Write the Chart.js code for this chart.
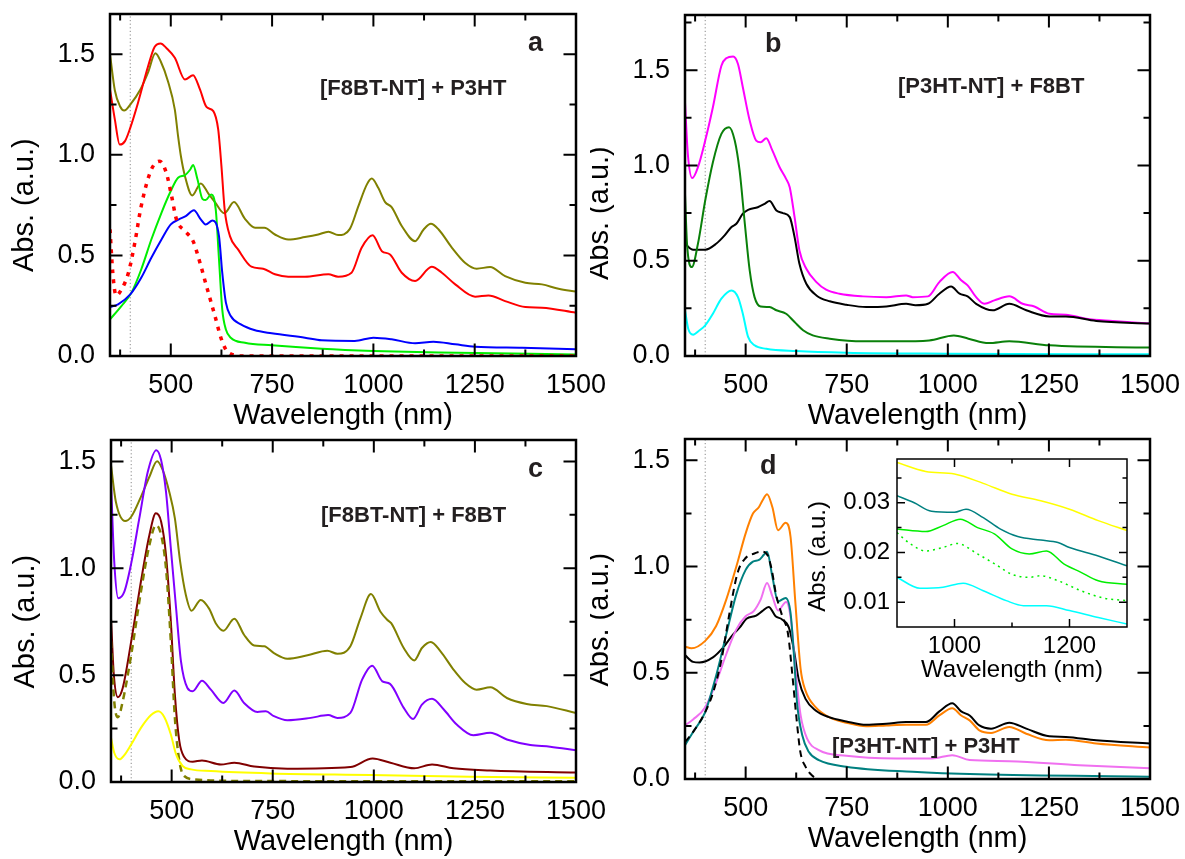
<!DOCTYPE html>
<html><head><meta charset="utf-8">
<script src="https://cdn.jsdelivr.net/npm/chart.js@4/dist/chart.umd.min.js"></script>
<style>
html,body{margin:0;padding:0;background:#fff;}
body{width:1185px;height:859px;position:relative;overflow:hidden;}
canvas{position:absolute;}
</style></head>
<body>
<canvas id="pa" width="640" height="440" style="left:0px;top:0px"></canvas>
<canvas id="pb" width="595" height="440" style="left:590px;top:0px"></canvas>
<canvas id="pc" width="640" height="439" style="left:0px;top:420px"></canvas>
<canvas id="pd" width="595" height="439" style="left:590px;top:420px"></canvas>
<canvas id="pi" width="345" height="250" style="left:795px;top:445px"></canvas>
<script>
// ---------- axis ticks ----------
const X_MAJOR = [500, 750, 1000, 1250, 1500];
const X_MINOR = [375, 625, 875, 1125, 1375];
const Y_MAJOR = [0, 0.5, 1.0, 1.5];
const Y_MINOR = [0.25, 0.75, 1.25, 1.75];
const REF_WL = 400;
const INSET_X_MAJOR = [1000, 1200];
const INSET_X_MINOR = [1100];
const INSET_Y_MAJOR = [0.01, 0.02, 0.03];
const INSET_Y_MINOR = [0.015, 0.025, 0.035];

// ---------- panel a : [F8BT-NT] + P3HT ----------
const aOliveX = [350,362,375,385,400,425,444,462,475,493,510,518,525,535,553,574,592,609,632,656,683,708,731,757,790,831,864,889,913,942,963,984,996,1012,1029,1045,1070,1103,1124,1142,1161,1194,1226,1255,1288,1325,1375,1416,1457,1500];
const aOliveY = [1.50,1.32,1.24,1.22,1.25,1.325,1.41,1.505,1.465,1.366,1.225,1.093,0.993,0.894,0.798,0.858,0.81,0.765,0.709,0.765,0.682,0.637,0.637,0.604,0.579,0.591,0.604,0.618,0.601,0.632,0.745,0.853,0.882,0.836,0.765,0.74,0.646,0.571,0.629,0.657,0.629,0.538,0.464,0.434,0.442,0.397,0.364,0.356,0.334,0.32];
const aRedX = [350,362,374,387,400,419,444,460,475,489,510,535,555,572,588,605,617,625,633,646,666,699,728,757,790,831,889,913,946,971,998,1021,1041,1070,1103,1144,1169,1202,1251,1284,1325,1375,1416,1500];
const aRedY = [1.325,1.175,1.051,1.068,1.134,1.258,1.44,1.536,1.553,1.531,1.482,1.374,1.396,1.325,1.238,1.217,1.126,0.944,0.728,0.596,0.53,0.444,0.434,0.406,0.394,0.394,0.406,0.394,0.414,0.538,0.6,0.521,0.505,0.414,0.373,0.444,0.414,0.356,0.295,0.301,0.273,0.243,0.24,0.215];
const aRedDotX = [350,357,365,378,395,411,427,452,473,489,502,514,535,555,572,588,609,625,642,683,800,1000,1200,1500];
const aRedDotY = [0.63,0.41,0.30,0.33,0.41,0.56,0.745,0.927,0.968,0.91,0.795,0.679,0.621,0.571,0.464,0.348,0.199,0.083,0.017,0,0,0,0,0];
const aGreenX = [350,378,403,427,452,477,500,518,535,548,555,566,578,586,600,611,619,627,636,648,683,749,872,1000,1161,1500];
const aGreenY = [0.182,0.248,0.315,0.43,0.579,0.712,0.82,0.886,0.899,0.927,0.949,0.877,0.781,0.775,0.803,0.728,0.48,0.232,0.132,0.091,0.066,0.053,0.036,0.025,0.017,0.008];
const aBlueX = [350,370,400,427,452,477,500,520,537,557,574,586,603,619,627,636,648,673,706,749,831,872,954,1000,1045,1103,1148,1202,1251,1367,1500];
const aBlueY = [0.243,0.257,0.306,0.389,0.488,0.579,0.654,0.679,0.695,0.724,0.679,0.654,0.674,0.596,0.414,0.265,0.199,0.157,0.129,0.113,0.091,0.078,0.075,0.091,0.083,0.063,0.071,0.058,0.046,0.041,0.033];

// ---------- panel b : [P3HT-NT] + F8BT ----------
const bMagX = [350,357,368,382,400,419,440,452,469,481,493,510,526,537,551,566,584,600,609,621,633,650,675,699,732,790,848,897,913,951,979,1012,1033,1049,1070,1091,1115,1152,1185,1214,1251,1292,1342,1408,1500];
const bMagY = [1.33,1.06,0.934,0.991,1.131,1.306,1.524,1.563,1.572,1.533,1.411,1.236,1.131,1.122,1.143,1.079,0.991,0.93,0.886,0.729,0.554,0.458,0.388,0.348,0.327,0.313,0.309,0.318,0.309,0.313,0.388,0.441,0.397,0.371,0.309,0.274,0.292,0.313,0.274,0.26,0.222,0.217,0.196,0.184,0.17];
const bBlackX = [350,370,400,427,448,465,477,493,506,530,547,559,576,592,609,621,633,650,675,708,749,798,848,897,920,951,979,1008,1029,1049,1070,1111,1152,1194,1251,1292,1367,1500];
const bBlackY = [0.589,0.558,0.558,0.589,0.633,0.677,0.694,0.747,0.767,0.781,0.799,0.813,0.764,0.75,0.729,0.624,0.484,0.379,0.318,0.287,0.269,0.257,0.26,0.274,0.266,0.274,0.327,0.365,0.327,0.313,0.274,0.24,0.274,0.24,0.208,0.208,0.184,0.17];
const bGreenX = [350,355,367,382,400,419,440,459,473,485,498,510,522,537,559,576,600,621,642,666,708,790,872,954,1015,1051,1101,1152,1251,1500];
const bGreenY = [0.85,0.589,0.467,0.589,0.816,1.017,1.166,1.201,1.131,0.974,0.694,0.449,0.309,0.26,0.257,0.24,0.222,0.178,0.135,0.108,0.091,0.077,0.077,0.082,0.108,0.091,0.068,0.077,0.056,0.044];
const bCyanX = [350,358,370,386,400,419,440,465,481,493,506,522,551,625,749,996,1500];
const bCyanY = [0.24,0.143,0.112,0.135,0.161,0.222,0.301,0.344,0.309,0.222,0.1,0.056,0.038,0.026,0.017,0.012,0.009];

// ---------- panel c : [F8BT-NT] + F8BT ----------
const cOliveX = [350,362,385,400,424,445,464,478,494,508,521,535,549,572,593,609,628,655,679,704,729,753,786,836,885,910,942,967,993,1016,1033,1043,1074,1100,1119,1141,1165,1197,1226,1254,1288,1329,1378,1428,1500];
const cOliveY = [1.482,1.311,1.221,1.241,1.334,1.428,1.501,1.459,1.358,1.233,1.031,0.876,0.801,0.852,0.81,0.743,0.708,0.764,0.689,0.639,0.635,0.603,0.577,0.593,0.614,0.6,0.635,0.767,0.879,0.798,0.759,0.743,0.627,0.569,0.627,0.655,0.611,0.526,0.463,0.432,0.443,0.393,0.365,0.355,0.323];
const cPurpleX = [350,358,368,383,400,420,441,462,474,486,498,511,523,539,552,575,597,628,655,679,712,733,753,786,844,887,910,942,971,996,1021,1040,1074,1097,1119,1144,1173,1205,1246,1288,1329,1387,1436,1500];
const cPurpleY = [1.404,1.031,0.86,0.891,1.023,1.233,1.451,1.552,1.505,1.358,1.093,0.813,0.565,0.44,0.425,0.474,0.432,0.37,0.428,0.37,0.328,0.331,0.308,0.289,0.3,0.313,0.3,0.323,0.479,0.544,0.471,0.459,0.347,0.295,0.362,0.389,0.339,0.269,0.219,0.23,0.199,0.173,0.165,0.148];
const cDarkRedX = [350,357,367,379,400,424,445,461,474,486,498,508,519,531,552,575,622,655,704,786,942,997,1041,1100,1144,1197,1288,1500];
const cDarkRedY = [0.767,0.502,0.397,0.44,0.658,0.938,1.156,1.257,1.218,1.062,0.751,0.409,0.191,0.117,0.095,0.101,0.082,0.09,0.072,0.062,0.07,0.11,0.09,0.064,0.082,0.064,0.054,0.044];
const cOliveDashX = [350,358,367,379,400,424,445,461,474,486,498,508,519,531,558,665,900,1200,1500];
const cOliveDashY = [0.658,0.378,0.303,0.378,0.596,0.891,1.109,1.202,1.156,1.0,0.658,0.3,0.098,0.028,0.012,0.005,0.004,0.004,0.004];
const cYellowX = [350,358,371,383,400,424,449,467,482,498,511,527,548,597,745,992,1238,1500];
const cYellowY = [0.207,0.137,0.106,0.126,0.176,0.253,0.313,0.331,0.303,0.222,0.129,0.075,0.059,0.051,0.04,0.033,0.025,0.02];

// ---------- panel d : [P3HT-NT] + P3HT ----------
const dOrangeX = [350,366,400,427,452,477,500,518,533,542,553,566,580,599,611,623,636,648,673,706,749,798,848,897,946,979,1011,1033,1054,1078,1107,1152,1194,1251,1292,1367,1500];
const dOrangeY = [0.623,0.615,0.65,0.72,0.844,1.0,1.156,1.249,1.28,1.312,1.34,1.28,1.171,1.206,1.14,0.829,0.517,0.416,0.338,0.291,0.265,0.248,0.252,0.255,0.255,0.299,0.333,0.299,0.276,0.229,0.217,0.245,0.213,0.182,0.185,0.167,0.148];
const dBlackX = [350,370,386,419,444,469,485,502,526,541,557,574,590,607,619,631,648,673,706,749,798,848,897,946,979,1011,1033,1054,1078,1107,1152,1194,1251,1292,1367,1500];
const dBlackY = [0.583,0.551,0.548,0.572,0.618,0.681,0.712,0.754,0.769,0.79,0.81,0.766,0.751,0.712,0.611,0.47,0.377,0.322,0.291,0.271,0.255,0.26,0.268,0.268,0.318,0.357,0.318,0.299,0.252,0.237,0.265,0.237,0.201,0.198,0.182,0.167];
const dTealX = [350,370,400,427,452,477,500,518,533,545,553,566,580,599,611,619,627,640,656,681,749,913,1078,1500];
const dTealY = [0.159,0.221,0.315,0.486,0.68,0.87,0.984,1.023,1.031,1.055,1.07,0.953,0.836,0.852,0.782,0.595,0.361,0.206,0.128,0.089,0.058,0.034,0.022,0.011];
const dPinkX = [350,370,400,427,452,477,500,520,537,553,566,580,600,613,623,636,652,681,749,872,962,1011,1054,1152,1325,1500];
const dPinkY = [0.252,0.28,0.338,0.455,0.587,0.704,0.766,0.79,0.844,0.922,0.86,0.793,0.833,0.735,0.517,0.299,0.19,0.136,0.109,0.097,0.097,0.112,0.089,0.084,0.065,0.05];
const dDashX = [350,370,400,420,440,460,480,500,520,540,555,565,575,590,605,615,625,635,648,665,680];
const dDashY = [0.174,0.221,0.315,0.41,0.56,0.78,0.97,1.04,1.06,1.07,1.05,0.98,0.87,0.77,0.68,0.5,0.3,0.13,0.058,0.015,0];

// ---------- inset of d ----------
const iYellowX = [900,950,1000,1050,1100,1150,1200,1250,1300];
const iYellowY = [0.0381,0.0363,0.0358,0.0339,0.0317,0.0304,0.0287,0.0264,0.0244];
const iTealX = [900,930,960,1000,1020,1050,1080,1110,1150,1180,1200,1250,1300];
const iTealY = [0.0314,0.0300,0.0283,0.0281,0.0287,0.0270,0.0247,0.0232,0.0225,0.0220,0.0210,0.0193,0.0173];
const iGreenX = [900,950,980,1010,1040,1070,1100,1130,1160,1190,1220,1250,1300];
const iGreenY = [0.0247,0.0242,0.0254,0.0267,0.0250,0.0237,0.0207,0.0197,0.0203,0.0177,0.0160,0.0143,0.0136];
const iGreenDotX = [900,920,950,980,1005,1040,1070,1100,1130,1150,1180,1220,1260,1300];
const iGreenDotY = [0.0240,0.0220,0.0203,0.0210,0.0218,0.0197,0.0177,0.0156,0.0150,0.0153,0.0143,0.0123,0.0108,0.0103];
const iCyanX = [900,940,980,1015,1050,1090,1120,1160,1200,1250,1300];
const iCyanY = [0.0150,0.0128,0.0130,0.0138,0.0123,0.0103,0.0093,0.0093,0.0083,0.0069,0.0056];

// ---------- helpers ----------
const FONT = "'Liberation Sans', Arial, Helvetica, sans-serif";
const pts = (xs, ys) => xs.map((x, i) => ({x: x, y: ys[i]}));
function line(xs, ys, color, extra) {
  return Object.assign({data: pts(xs, ys), borderColor: color, borderWidth: 2, pointRadius: 0,
    fill: false, cubicInterpolationMode: 'monotone'}, extra || {});
}
function refLine(ymax) {
  return {data: [{x: REF_WL, y: 0}, {x: REF_WL, y: ymax}], borderColor: '#8a8a8a', borderWidth: 1,
    borderDash: [1.2, 2.4], pointRadius: 0, fill: false};
}

const framePlugin = {
  id: 'frame',
  afterDatasetsDraw(chart, args, o) {
    const ctx = chart.ctx, a = chart.chartArea, xs = chart.scales.x, ys = chart.scales.y;
    ctx.save();
    ctx.strokeStyle = '#000';
    ctx.lineWidth = o.tickWidth;
    ctx.beginPath();
    const vx = (vals, len) => vals.forEach(v => {
      if (v <= xs.min || v >= xs.max) return;
      const p = xs.getPixelForValue(v);
      ctx.moveTo(p, a.bottom); ctx.lineTo(p, a.bottom - len);
      ctx.moveTo(p, a.top); ctx.lineTo(p, a.top + len);
    });
    const vy = (vals, len) => vals.forEach(v => {
      if (v <= ys.min || v >= ys.max) return;
      const p = ys.getPixelForValue(v);
      ctx.moveTo(a.left, p); ctx.lineTo(a.left + len, p);
      ctx.moveTo(a.right, p); ctx.lineTo(a.right - len, p);
    });
    vx(o.xMajor, o.major); vx(o.xMinor, o.minor);
    vy(o.yMajor, o.major); vy(o.yMinor, o.minor);
    ctx.stroke();
    ctx.lineWidth = o.frameWidth;
    ctx.strokeRect(a.left, a.top, a.right - a.left, a.bottom - a.top);
    ctx.restore();
  }
};

const textPlugin = {
  id: 'texts',
  afterDraw(chart, args, o) {
    const ctx = chart.ctx, a = chart.chartArea, ys = chart.scales.y;
    ctx.save();
    if (o.yTitle) {
      const t = o.yTitle;
      const cy = (ys.getPixelForValue(t.from) + ys.getPixelForValue(t.to)) / 2 + (t.dy || 0);
      ctx.save();
      ctx.translate(a.left - t.offset, cy);
      ctx.rotate(-Math.PI / 2);
      ctx.font = t.size + 'px ' + FONT;
      ctx.fillStyle = '#000';
      ctx.textAlign = 'center';
      ctx.textBaseline = 'middle';
      ctx.fillText(t.text, 0, 0);
      ctx.restore();
    }
    (o.items || []).forEach(it => {
      ctx.font = 'bold ' + it.size + 'px ' + FONT;
      ctx.fillStyle = '#231f20';
      ctx.textAlign = 'left';
      ctx.textBaseline = 'alphabetic';
      ctx.fillText(it.text, a.left + it.dx, a.top + it.dy);
    });
    ctx.restore();
  }
};

function makeChart(id, g) {
  const cv = document.getElementById(id);
  const W = cv.width, H = cv.height;
  return new Chart(cv, {
    type: 'line',
    data: {datasets: g.datasets},
    options: {
      responsive: false, animation: false, devicePixelRatio: 1, events: [],
      layout: {padding: {left: 0, top: g.top, right: W - g.right, bottom: 0}},
      plugins: {
        legend: {display: false}, tooltip: {enabled: false},
        frame: {xMajor: g.xMajor, xMinor: g.xMinor, yMajor: g.yMajor, yMinor: g.yMinor,
                major: g.major, minor: g.minor, tickWidth: g.tickWidth, frameWidth: g.frameWidth},
        texts: {yTitle: g.yTitle, items: g.items}
      },
      scales: {
        x: {
          type: 'linear', min: g.xmin, max: g.xmax,
          afterBuildTicks: s => { s.ticks = g.xMajor.map(v => ({value: v})); },
          afterFit: s => { s.height = H - g.bottom; s.paddingLeft = 0; s.paddingRight = 0; },
          grid: {display: false, drawTicks: false}, border: {display: false},
          ticks: {font: {family: FONT, size: g.tickSize}, color: '#000', padding: g.xPad,
                  maxRotation: 0, autoSkip: false, callback: v => String(v)},
          title: {display: true, text: 'Wavelength (nm)', color: '#000',
                  font: {family: FONT, size: g.titleSize}, padding: {top: 0, bottom: g.xTitlePad}}
        },
        y: {
          type: 'linear', min: g.ymin, max: g.ymax,
          afterBuildTicks: s => { s.ticks = g.yMajor.map(v => ({value: v})); },
          afterFit: s => { s.width = g.left; s.paddingTop = 0; s.paddingBottom = 0; },
          grid: {display: false, drawTicks: false}, border: {display: false},
          ticks: {font: {family: FONT, size: g.tickSize}, color: '#000', padding: g.yPad,
                  autoSkip: false, callback: v => v.toFixed(g.yDec)}
        }
      }
    },
    plugins: [framePlugin, textPlugin]
  });
}

const MAIN = {xmin: 350, xmax: 1500, ymin: 0, xMajor: X_MAJOR, xMinor: X_MINOR, yMajor: Y_MAJOR, yMinor: Y_MINOR,
  major: 12.5, minor: 6.5, tickWidth: 2, frameWidth: 2.5, tickSize: 27, titleSize: 29, xPad: 13, yPad: 15, yDec: 1};
const yT = {text: 'Abs. (a.u.)', from: 0, to: 1.5, offset: 85, size: 29};

makeChart('pa', Object.assign({}, MAIN, {
  left: 110, top: 14, right: 576, bottom: 356, ymax: 1.7, xTitlePad: 6.6, yTitle: yT,
  items: [{text: '[F8BT-NT] + P3HT', dx: 210, dy: 81, size: 22}, {text: 'a', dx: 418, dy: 36.5, size: 27}],
  datasets: [
    line(aRedDotX, aRedDotY, '#ff0000', {borderWidth: 3.5, borderDash: [4, 6]}),
    line(aBlueX, aBlueY, '#0000ff'),
    line(aGreenX, aGreenY, '#00ee00'),
    line(aRedX, aRedY, '#ff0000'),
    line(aOliveX, aOliveY, '#808000'),
    refLine(1.7)
  ]
}));

makeChart('pb', Object.assign({}, MAIN, {
  left: 95, top: 15, right: 560, bottom: 356, ymax: 1.79, xTitlePad: 6.6, yTitle: yT,
  items: [{text: '[P3HT-NT] + F8BT', dx: 213, dy: 78.3, size: 22}, {text: 'b', dx: 80, dy: 36.7, size: 27}],
  datasets: [
    line(bCyanX, bCyanY, '#00ffff'),
    line(bGreenX, bGreenY, '#0a800a'),
    line(bBlackX, bBlackY, '#000000'),
    line(bMagX, bMagY, '#ff00ff'),
    refLine(1.79)
  ]
}));

makeChart('pc', Object.assign({}, MAIN, {
  left: 111, top: 20, right: 576, bottom: 362, ymax: 1.6, xTitlePad: 0, yTitle: yT,
  items: [{text: '[F8BT-NT] + F8BT', dx: 210, dy: 82.3, size: 22}, {text: 'c', dx: 417, dy: 36.7, size: 27}],
  datasets: [
    line(cYellowX, cYellowY, '#ffff00'),
    line(cOliveDashX, cOliveDashY, '#808000', {borderWidth: 2.5, borderDash: [7, 5]}),
    line(cDarkRedX, cDarkRedY, '#800000'),
    line(cPurpleX, cPurpleY, '#8000ff'),
    line(cOliveX, cOliveY, '#808000'),
    refLine(1.6)
  ]
}));

makeChart('pd', Object.assign({}, MAIN, {
  left: 95, top: 19, right: 560, bottom: 359, ymax: 1.6, xTitlePad: 2.6, yTitle: yT,
  items: [{text: '[P3HT-NT] + P3HT', dx: 147, dy: 314.3, size: 22}, {text: 'd', dx: 75, dy: 35.3, size: 27}],
  datasets: [
    line(dDashX, dDashY, '#000000', {borderDash: [7, 5]}),
    line(dTealX, dTealY, '#008080'),
    line(dPinkX, dPinkY, '#f070f0'),
    line(dBlackX, dBlackY, '#000000'),
    line(dOrangeX, dOrangeY, '#ff8000'),
    refLine(1.6)
  ]
}));

makeChart('pi', {
  xmin: 900, xmax: 1300, ymin: 0.005, ymax: 0.0388,
  xMajor: INSET_X_MAJOR, xMinor: INSET_X_MINOR, yMajor: INSET_Y_MAJOR, yMinor: INSET_Y_MINOR,
  major: 8, minor: 4.5, tickWidth: 1.5, frameWidth: 1.5, tickSize: 24, titleSize: 24, xPad: 5, yPad: 7, yDec: 2,
  left: 102, top: 14, right: 332, bottom: 182, xTitlePad: 10,
  yTitle: {text: 'Abs. (a.u.)', from: 0.01, to: 0.03, offset: 79, size: 24, dy: 4},
  items: [],
  datasets: [
    line(iYellowX, iYellowY, '#ffff00', {borderWidth: 1.5}),
    line(iTealX, iTealY, '#008080', {borderWidth: 1.5}),
    line(iGreenX, iGreenY, '#00ee00', {borderWidth: 1.5}),
    line(iGreenDotX, iGreenDotY, '#00ee00', {borderWidth: 1.5, borderDash: [2, 4]}),
    line(iCyanX, iCyanY, '#00ffff', {borderWidth: 1.5})
  ]
});
</script>
</body></html>
